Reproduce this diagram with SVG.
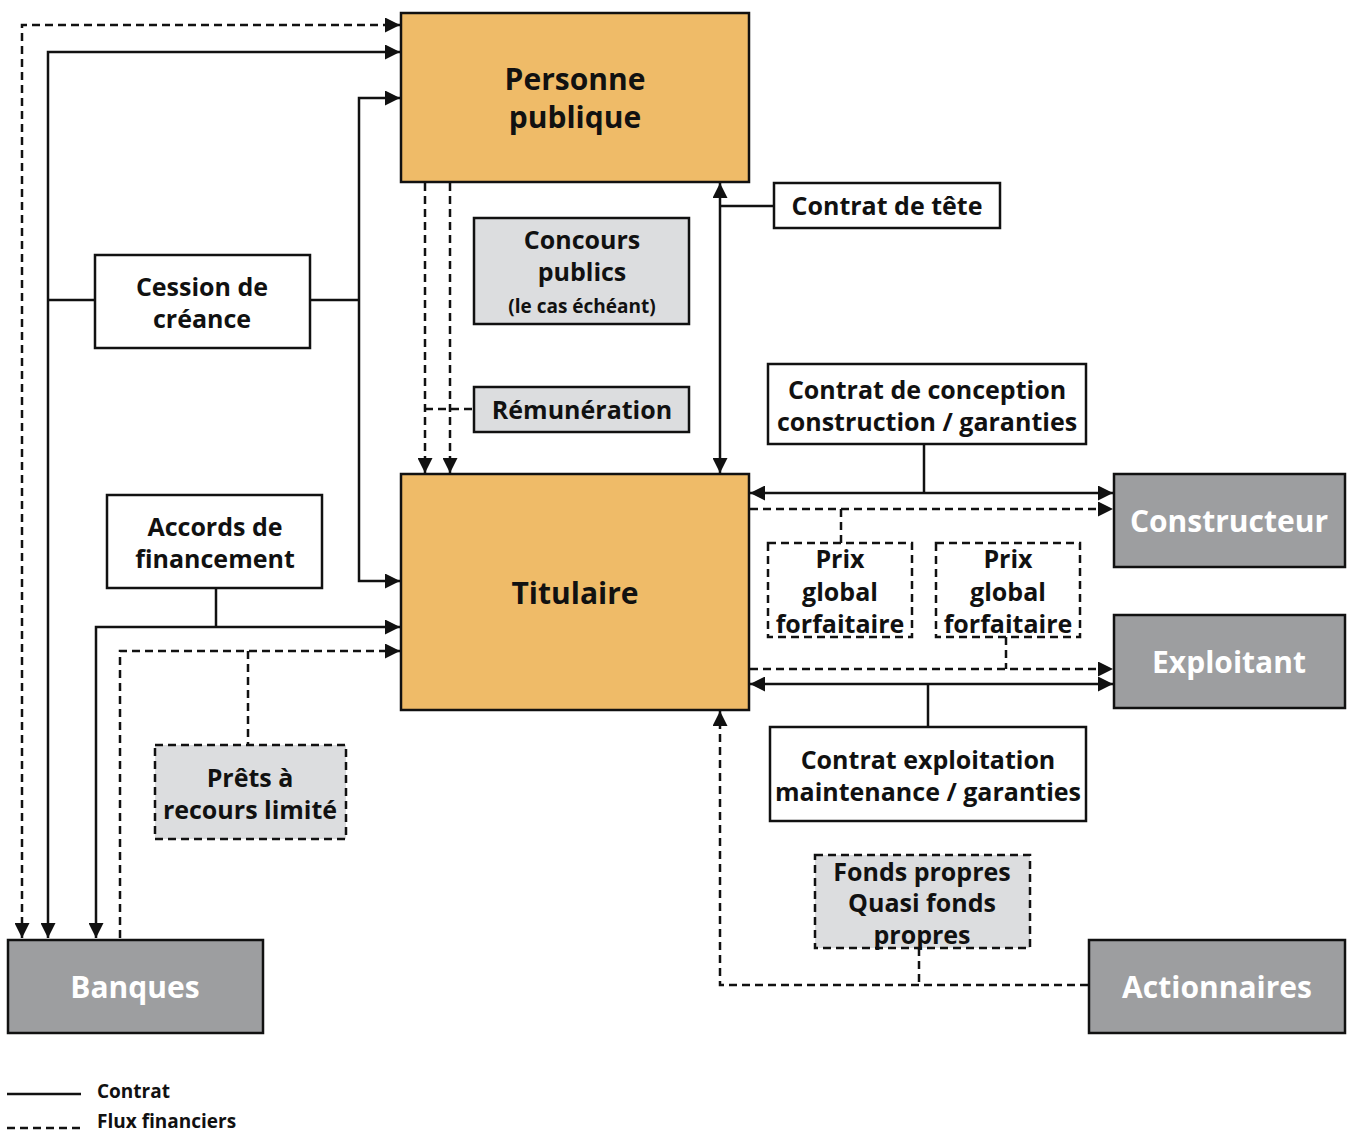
<svg xmlns="http://www.w3.org/2000/svg" width="1353" height="1133" viewBox="0 0 1353 1133">
<style>
text{font-family:"Open Sans",Lato,"Liberation Sans",sans-serif;font-weight:bold;text-anchor:middle;fill:#111}
.c{fill:none;stroke:#111;stroke-width:2.5}
.d{fill:none;stroke:#111;stroke-width:2.5;stroke-dasharray:8,5}
.main{fill:#EFBB68;stroke:#111;stroke-width:2.5}
.ext{fill:#9D9EA0;stroke:#111;stroke-width:2.5}
.lbl{fill:#fff;stroke:#111;stroke-width:2.5}
.gl{fill:#DCDDDF;stroke:#111;stroke-width:2.5}
.gld{fill:#DCDDDF;stroke:#111;stroke-width:2.5;stroke-dasharray:8,5}
.wd{fill:#fff;stroke:#111;stroke-width:2.5;stroke-dasharray:8,5}
.big{font-size:30px}
.m{font-size:25px}
.s{font-size:19px}
.w{fill:#fff}
.lg{font-size:19px;text-anchor:start}
</style>
<defs>
<marker id="a" viewBox="0 0 10 10" refX="10" refY="5" markerWidth="15" markerHeight="15" markerUnits="userSpaceOnUse" orient="auto-start-reverse">
<path d="M0,0 L10,5 L0,10 z" fill="#111"/>
</marker>
</defs>
<g id="connectors">
<path class="d" d="M22 938 V25 H400" marker-start="url(#a)" marker-end="url(#a)"/>
<path class="c" d="M48 938 V52 H400" marker-start="url(#a)" marker-end="url(#a)"/>
<path class="c" d="M48 300 H95 M310 300 H359"/>
<path class="c" d="M400 98 H359 V581 H400" marker-start="url(#a)" marker-end="url(#a)"/>
<path class="c" d="M96 938 V627 H400" marker-start="url(#a)" marker-end="url(#a)"/>
<path class="c" d="M216 588 V627"/>
<path class="d" d="M120 938 V651 H400" marker-end="url(#a)"/>
<path class="d" d="M248 651 V745"/>
<path class="d" d="M425 183 V473" marker-end="url(#a)"/>
<path class="d" d="M450 183 V473" marker-end="url(#a)"/>
<path class="d" d="M425 409 H474"/>
<path class="c" d="M720 183 V473" marker-start="url(#a)" marker-end="url(#a)"/>
<path class="c" d="M720 206 H774"/>
<path class="c" d="M750 493 H1113" marker-start="url(#a)" marker-end="url(#a)"/>
<path class="c" d="M924 444 V493"/>
<path class="d" d="M750 509 H1113" marker-end="url(#a)"/>
<path class="d" d="M841 509 V543"/>
<path class="d" d="M750 669 H1113" marker-end="url(#a)"/>
<path class="d" d="M1006 637 V669"/>
<path class="c" d="M750 684 H1113" marker-start="url(#a)" marker-end="url(#a)"/>
<path class="c" d="M928 684 V727"/>
<path class="d" d="M1088 985 H720 V711" marker-end="url(#a)"/>
<path class="d" d="M919 948 V985"/>
</g>
<g id="personne-publique"><rect class="main" x="401" y="13" width="348" height="169"/><text class="big" x="575" y="90">Personne</text><text class="big" x="575" y="128">publique</text></g>
<g id="titulaire"><rect class="main" x="401" y="474" width="348" height="236"/><text class="big" x="575" y="604">Titulaire</text></g>
<g id="constructeur"><rect class="ext" x="1114" y="474" width="231" height="93"/><text class="big w" x="1229" y="532">Constructeur</text></g>
<g id="exploitant"><rect class="ext" x="1114" y="615" width="231" height="93"/><text class="big w" x="1229" y="673">Exploitant</text></g>
<g id="banques"><rect class="ext" x="8" y="940" width="255" height="93"/><text class="big w" x="135" y="998">Banques</text></g>
<g id="actionnaires"><rect class="ext" x="1089" y="940" width="256" height="93"/><text class="big w" x="1217" y="998">Actionnaires</text></g>
<g id="concours-publics"><rect class="gl" x="474" y="218" width="215" height="106"/><text class="m" x="582" y="249">Concours</text><text class="m" x="582" y="281">publics</text><text class="s" x="582" y="313">(le cas échéant)</text></g>
<g id="remuneration"><rect class="gl" x="474" y="387" width="215" height="45"/><text class="m" x="582" y="419">Rémunération</text></g>
<g id="contrat-de-tete"><rect class="lbl" x="774" y="183" width="226" height="45"/><text class="m" x="887" y="215">Contrat de tête</text></g>
<g id="cession-de-creance"><rect class="lbl" x="95" y="255" width="215" height="93"/><text class="m" x="202" y="296">Cession de</text><text class="m" x="202" y="328">créance</text></g>
<g id="accords-de-financement"><rect class="lbl" x="107" y="495" width="215" height="93"/><text class="m" x="215" y="536">Accords de</text><text class="m" x="215" y="568">financement</text></g>
<g id="prets"><rect class="gld" x="155" y="745" width="191" height="94"/><text class="m" x="250" y="787">Prêts à</text><text class="m" x="250" y="819">recours limité</text></g>
<g id="contrat-conception"><rect class="lbl" x="768" y="364" width="318" height="80"/><text class="m" x="927" y="399">Contrat de conception</text><text class="m" x="927" y="431">construction / garanties</text></g>
<g id="prix-1"><rect class="wd" x="768" y="543" width="144" height="94"/><text class="m" x="840" y="568">Prix</text><text class="m" x="840" y="601">global</text><text class="m" x="840" y="633">forfaitaire</text></g>
<g id="prix-2"><rect class="wd" x="936" y="543" width="144" height="94"/><text class="m" x="1008" y="568">Prix</text><text class="m" x="1008" y="601">global</text><text class="m" x="1008" y="633">forfaitaire</text></g>
<g id="contrat-exploitation"><rect class="lbl" x="770" y="727" width="316" height="94"/><text class="m" x="928" y="769">Contrat exploitation</text><text class="m" x="928" y="801">maintenance / garanties</text></g>
<g id="fonds-propres"><rect class="gld" x="815" y="855" width="215" height="93"/><text class="m" x="922" y="881">Fonds propres</text><text class="m" x="922" y="912">Quasi fonds</text><text class="m" x="922" y="944">propres</text></g>
<g id="legend">
<path class="c" d="M7 1094 H81"/><path class="d" d="M7 1128 H81"/>
<text class="lg" x="97" y="1098">Contrat</text><text class="lg" x="97" y="1128">Flux financiers</text>
</g>
</svg>
